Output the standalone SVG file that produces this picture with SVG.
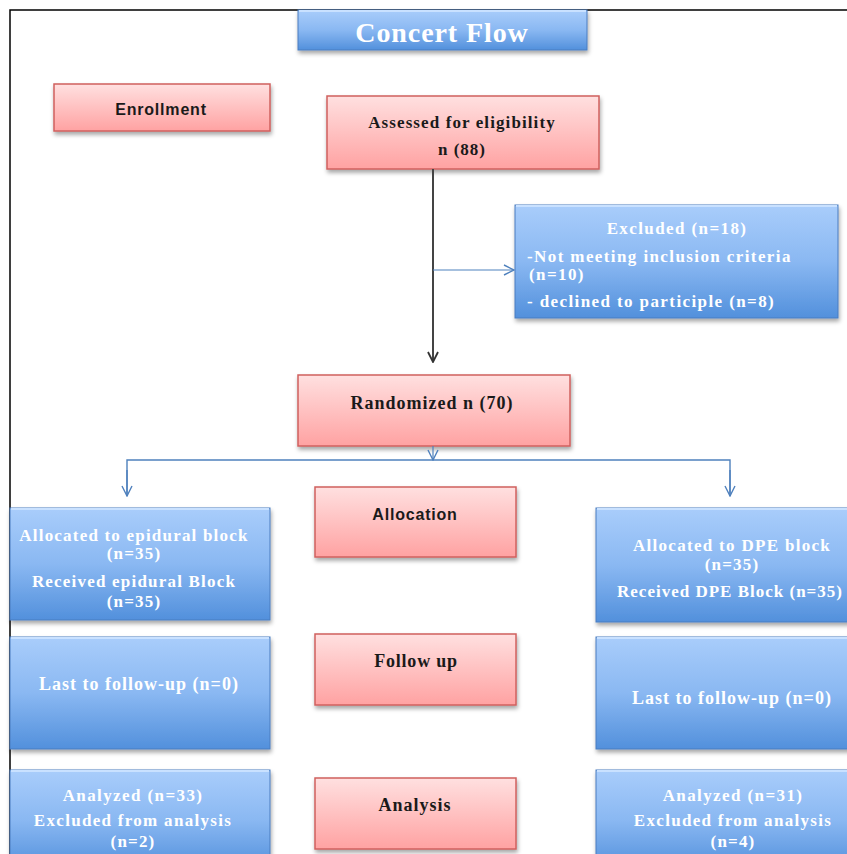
<svg xmlns="http://www.w3.org/2000/svg" width="847" height="854" viewBox="0 0 847 854">
<defs>
<linearGradient id="gBlue" x1="0" y1="0" x2="0" y2="1">
<stop offset="0" stop-color="#a9cdfb"/>
<stop offset="0.5" stop-color="#8ab8f2"/>
<stop offset="1" stop-color="#5290dc"/>
</linearGradient>
<linearGradient id="gPink" x1="0" y1="0" x2="0" y2="1">
<stop offset="0" stop-color="#ffe0e0"/>
<stop offset="1" stop-color="#ffa2a2"/>
</linearGradient>
<filter id="sh" x="-10%" y="-10%" width="120%" height="130%">
<feDropShadow dx="1" dy="3" stdDeviation="2" flood-color="#000" flood-opacity="0.35"/>
</filter>
<marker id="mBlack" viewBox="0 0 12 12" refX="11" refY="6" markerWidth="12" markerHeight="12" markerUnits="userSpaceOnUse" orient="auto">
<path d="M1,1 L11,6 L1,11" fill="none" stroke="#333" stroke-width="1.8"/>
</marker>
<marker id="mBlue" viewBox="0 0 12 12" refX="11" refY="6" markerWidth="12" markerHeight="12" markerUnits="userSpaceOnUse" orient="auto">
<path d="M1,1 L11,6 L1,11" fill="none" stroke="#4f81bd" stroke-width="1.4"/>
</marker>
</defs>
<style>
.blue{fill:url(#gBlue);stroke:#4a7cc0;stroke-width:1;filter:url(#sh)}
.pink{fill:url(#gPink);stroke:#d0605e;stroke-width:1.5;filter:url(#sh)}
.hl{fill:none;stroke:#c9e1ff;stroke-width:2}
.wt{font-family:"Liberation Serif","Times New Roman",serif;font-weight:bold;fill:#ffffff;font-size:17px;letter-spacing:1.2px}
.bt{font-family:"Liberation Serif","Times New Roman",serif;font-weight:bold;fill:#1a1a1a;font-size:17px;letter-spacing:1px}
.st{font-family:"Liberation Sans",Arial,sans-serif;font-weight:bold;fill:#1a1a1a;font-size:16px;letter-spacing:0.8px}
.w18{font-size:18px;letter-spacing:1px}
.c{text-anchor:middle}
</style>
<rect x="0" y="0" width="847" height="854" fill="#ffffff"/>
<path d="M10,854 L10,10 L847,10" fill="none" stroke="#000" stroke-width="1.5"/>

<g id="title">
<rect class="blue" x="298" y="10" width="289" height="40"/>
<line class="hl" x1="299" y1="11" x2="586" y2="11"/>
<text class="wt c" x="442" y="42" style="font-size:28px;letter-spacing:0.9px">Concert Flow</text>
</g>

<g id="enrollment">
<rect class="pink" x="54" y="84" width="216" height="47"/>
<text class="st c" x="161" y="115">Enrollment</text>
</g>

<g id="assessed">
<rect class="pink" x="327" y="96" width="272" height="73"/>
<text class="bt c" x="462" y="128" style="letter-spacing:1.1px">Assessed  for eligibility</text>
<text class="bt c" x="462" y="155">n (88)</text>
</g>

<g id="excluded">
<rect class="blue" x="515" y="205" width="323" height="113"/>
<line class="hl" x1="516" y1="206" x2="837" y2="206"/>
<text class="wt c" x="677" y="234" style="letter-spacing:1.4px">Excluded (n=18)</text>
<text class="wt" x="527" y="262" style="letter-spacing:1.4px">-Not meeting inclusion criteria</text>
<text class="wt" x="529" y="280" style="letter-spacing:1.4px">(n=10)</text>
<text class="wt" x="527" y="307" style="letter-spacing:1.4px">- declined to participle (n=8)</text>
</g>

<g id="randomized">
<rect class="pink" x="298" y="375" width="272" height="71"/>
<text class="bt c" x="432" y="409" style="font-size:18px">Randomized n (70)</text>
</g>

<g id="allocation">
<rect class="pink" x="315" y="487" width="201" height="70"/>
<text class="st c" x="415" y="520">Allocation</text>
</g>

<g id="alloc-left">
<rect class="blue" x="10" y="508" width="260" height="112"/>
<line class="hl" x1="11" y1="509" x2="269" y2="509"/>
<text class="wt c" x="134" y="541">Allocated to  epidural block</text>
<text class="wt c" x="134" y="559">(n=35)</text>
<text class="wt c" x="134" y="587">Received epidural Block</text>
<text class="wt c" x="134" y="607">(n=35)</text>
</g>

<g id="alloc-right">
<rect class="blue" x="596" y="508" width="262" height="114"/>
<line class="hl" x1="597" y1="509" x2="857" y2="509"/>
<text class="wt c" x="732" y="551" style="letter-spacing:1.3px">Allocated to  DPE  block</text>
<text class="wt c" x="732" y="570">(n=35)</text>
<text class="wt c" x="730" y="597" style="letter-spacing:1px">Received DPE  Block (n=35)</text>
</g>

<g id="followup">
<rect class="pink" x="315" y="634" width="201" height="71"/>
<text class="bt c w18" x="416" y="667" style="letter-spacing:0.8px">Follow up</text>
</g>

<g id="follow-left">
<rect class="blue" x="10" y="637" width="260" height="112"/>
<line class="hl" x1="11" y1="638" x2="269" y2="638"/>
<text class="wt c w18" x="139" y="690">Last to follow-up (n=0)</text>
</g>

<g id="follow-right">
<rect class="blue" x="596" y="637" width="262" height="112"/>
<line class="hl" x1="597" y1="638" x2="857" y2="638"/>
<text class="wt c w18" x="732" y="704">Last to follow-up (n=0)</text>
</g>

<g id="analysis">
<rect class="pink" x="315" y="778" width="201" height="71"/>
<text class="bt c w18" x="415" y="811">Analysis</text>
</g>

<g id="analysis-left">
<rect class="blue" x="10" y="770" width="260" height="100"/>
<line class="hl" x1="11" y1="771" x2="269" y2="771"/>
<text class="wt c" x="133" y="801" style="letter-spacing:1.4px">Analyzed (n=33)</text>
<text class="wt c" x="133" y="826" style="letter-spacing:1.3px">Excluded from analysis</text>
<text class="wt c" x="133" y="847">(n=2)</text>
</g>

<g id="analysis-right">
<rect class="blue" x="596" y="770" width="262" height="100"/>
<line class="hl" x1="597" y1="771" x2="857" y2="771"/>
<text class="wt c" x="733" y="801" style="letter-spacing:1.4px">Analyzed (n=31)</text>
<text class="wt c" x="733" y="826" style="letter-spacing:1.3px">Excluded from analysis</text>
<text class="wt c" x="733" y="847">(n=4)</text>
</g>

<g id="connectors">
<line x1="433" y1="169" x2="433" y2="362" stroke="#444" stroke-width="2" marker-end="url(#mBlack)"/>
<line x1="433" y1="270" x2="514" y2="270" stroke="#4f81bd" stroke-width="1.2" marker-end="url(#mBlue)"/>
<line x1="433" y1="446" x2="433" y2="460" stroke="#4f81bd" stroke-width="1.2" marker-end="url(#mBlue)"/>
<polyline points="127,496 127,460 730,460 730,496" fill="none" stroke="#4f81bd" stroke-width="1.4"/>
<line x1="127" y1="470" x2="127" y2="496" stroke="#4f81bd" stroke-width="1.4" marker-end="url(#mBlue)"/>
<line x1="730" y1="470" x2="730" y2="496" stroke="#4f81bd" stroke-width="1.4" marker-end="url(#mBlue)"/>
</g>
</svg>
